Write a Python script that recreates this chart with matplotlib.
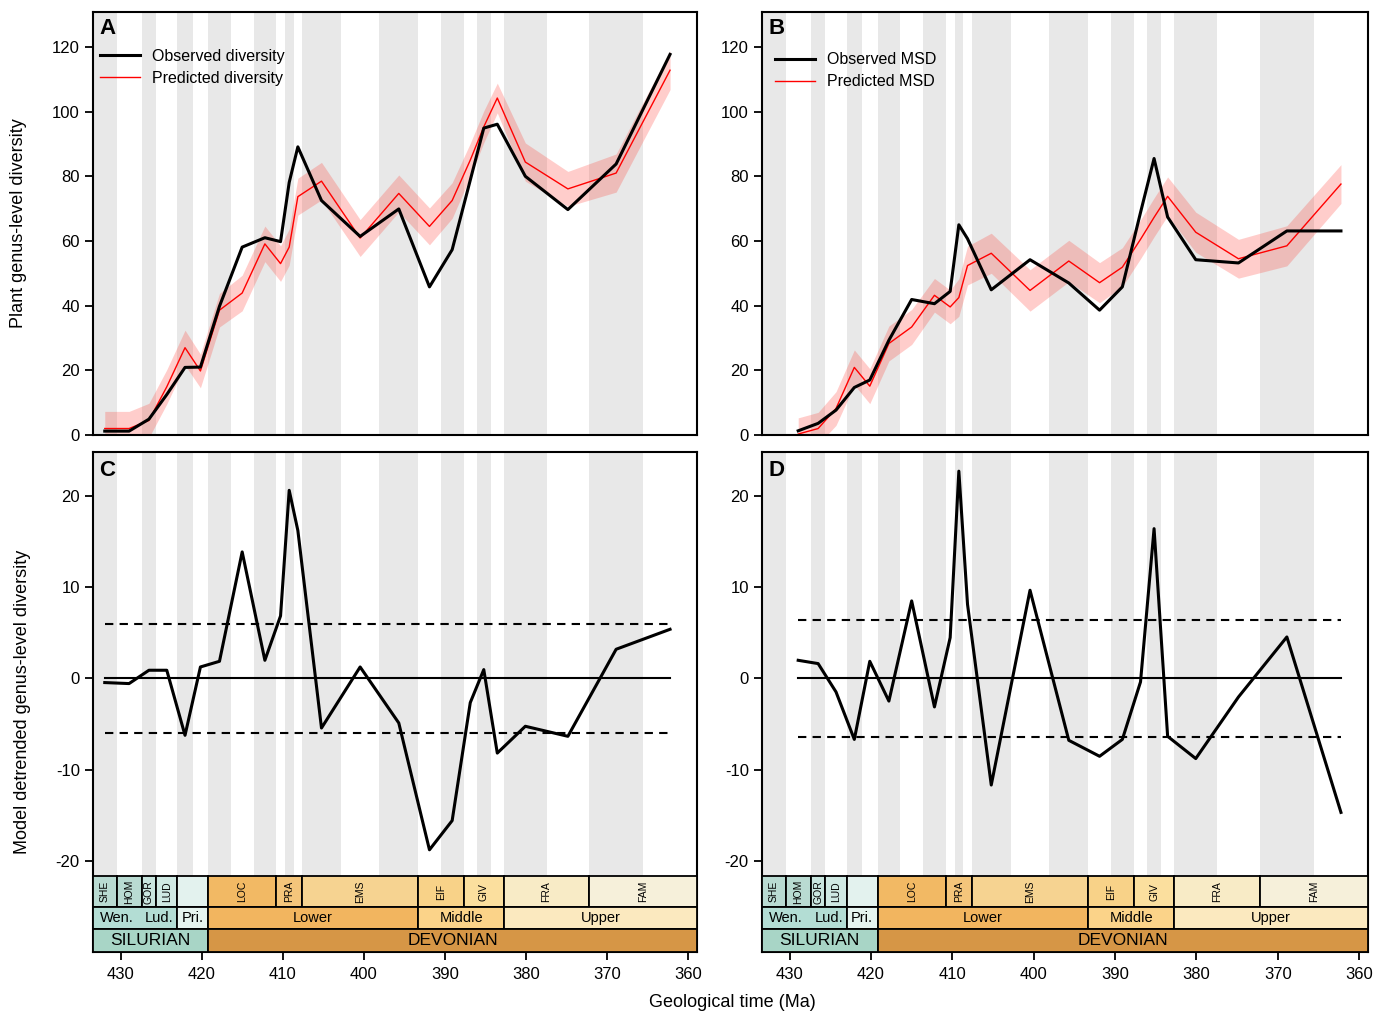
import numpy as np
import matplotlib
matplotlib.use("Agg")
import matplotlib.pyplot as plt
from matplotlib.patches import Rectangle

plt.rcParams['font.family'] = ['Liberation Sans', 'DejaVu Sans']
plt.rcParams['axes.unicode_minus'] = False

# time scale (Ma) -- stages and number of time bins in each stage
stage_names = ['SHE', 'HOM', 'GOR', 'LUD', '', 'LOC', 'PRA', 'EMS', 'EIF', 'GIV', 'FRA', 'FAM']
stage_bounds = [433.4, 430.5, 427.4, 425.6, 423.0, 419.2, 410.8, 407.6, 393.3, 387.7, 382.7, 372.2, 358.9]
stage_nbins = [1, 1, 1, 1, 2, 3, 3, 3, 2, 3, 2, 2]
stage_colors = ['#b9dbd2', '#b9dbd2', '#c9e6df', '#cfe9e3', '#e3f2ee',
                '#f2b964', '#f4c57b', '#f6d391', '#f8d288', '#fbdf9e', '#f8ebc6', '#f6f0da']

series_boxes = [(433.4, 423.0), (423.0, 419.2), (419.2, 393.3), (393.3, 382.7), (382.7, 358.9)]
series_colors = ['#b3ddd4', '#e6f4ef', '#f2b55f', '#fbd389', '#fbe9bf']
series_labels = ['Wen.', 'Lud.', 'Pri.', 'Lower', 'Middle', 'Upper']
series_label_pos = [430.45, 425.2, 421.1, 406.3, 388.0, 370.8]

period_boxes = [(433.4, 419.2), (419.2, 358.9)]
period_labels = ['SILURIAN', 'DEVONIAN']
period_colors = ['#a8d5c6', '#d69646']

# panel A: plant genus-level diversity
obs_div = [1.2, 1.2, 4.9, 12.5, 20.9, 21.0, 39.8, 58.1, 61.0, 59.8, 78.1, 89.1,
           72.5, 61.4, 69.9, 45.8, 57.3, 78.8, 94.9, 96.1, 80.0, 69.7, 83.8, 117.7]
pred_div = [2.0, 2.0, 4.5, 14.9, 27.0, 19.8, 38.6, 43.9, 59.1, 53.0, 58.1, 73.7,
            78.5, 60.9, 74.7, 64.5, 72.5, 85.0, 95.3, 104.2, 84.4, 76.1, 81.0, 112.8]
pred_div_hw = [5.3, 5.3, 5.3, 5.3, 5.4, 5.2, 5.2, 5.5, 5.5, 5.5, 5.6, 5.7,
               5.8, 5.7, 5.7, 5.7, 5.5, 5.2, 4.9, 4.6, 5.9, 5.4, 5.9, 6.0]

# panel B: mean standing diversity
obs_msd = [np.nan, 1.3, 3.6, 7.7, 14.7, 17.0, 29.3, 41.9, 40.6, 44.4, 65.0, 60.7,
           44.9, 54.2, 47.0, 38.6, 45.8, 68.8, 85.5, 67.4, 54.2, 53.2, 63.1, 63.1]
pred_msd = [np.nan, 0.3, 2.0, 8.2, 20.9, 15.1, 28.3, 33.4, 43.2, 39.6, 42.5, 52.4,
            56.2, 44.7, 53.8, 47.1, 51.9, 60.5, 67.3, 73.8, 62.7, 54.5, 58.5, 77.6]
pred_msd_hw = [np.nan, 5.0, 5.0, 5.2, 5.4, 5.4, 5.4, 5.4, 5.2, 5.2, 5.8, 6.0,
               6.2, 6.4, 6.4, 6.2, 6.0, 6.0, 6.0, 6.0, 6.2, 6.0, 6.2, 6.0]

# panels C, D: detrended residuals
resid_div = [-0.47, -0.58, 0.88, 0.88, -6.25, 1.24, 1.86, 13.85, 1.97, 6.84, 20.6, 16.2,
             -5.45, 1.24, -4.9, -18.8, -15.6, -2.67, 0.95, -8.2, -5.26, -6.36, 3.18, 5.37]
resid_msd = [np.nan, 1.97, 1.61, -1.5, -6.7, 1.86, -2.5, 8.48, -3.14, 4.46, 22.7, 8.1,
             -11.7, 9.65, -6.8, -8.55, -6.7, -0.4, 16.4, -6.36, -8.8, -2.05, 4.53, -14.7]
thr_div = 6.0
thr_msd = 6.4

# bin edges: each stage split into equal parts
edges = []
for i, n in enumerate(stage_nbins):
    e = np.linspace(stage_bounds[i], stage_bounds[i + 1], n + 1)
    edges.extend(e[:-1])
edges.append(stage_bounds[-1])
edges = np.array(edges)
mids = (edges[:-1] + edges[1:]) / 2

XLIM = (433.4, 358.9)
GREY = '#e8e8e8'
TS = [-21.7, -25.1, -27.45, -30.0]  # timescale row limits in panels C/D


def shade_bins(ax, ybot=None):
    for i in range(0, len(edges) - 1, 2):
        if ybot is None:
            ax.axvspan(edges[i], edges[i + 1], color=GREY, lw=0, zorder=0)
        else:
            ax.fill_between([edges[i], edges[i + 1]], ybot, 40, color=GREY, lw=0, zorder=0)


def style_axis(ax):
    for s in ax.spines.values():
        s.set_linewidth(1.5)
    ax.tick_params(direction='out', length=6, width=1.3, labelsize=12)
    ax.tick_params(axis='x', pad=5)
    ax.set_xlim(*XLIM)


def timescale(ax):
    kw = dict(ec='black', lw=1.3, zorder=3)
    for i, name in enumerate(stage_names):
        a, b = stage_bounds[i], stage_bounds[i + 1]
        ax.add_patch(Rectangle((b, TS[1]), a - b, TS[0] - TS[1], fc=stage_colors[i], **kw))
        if name:
            ax.text((a + b) / 2, (TS[0] + TS[1]) / 2, name, rotation=90, fontsize=7.5,
                    ha='center', va='center', zorder=4)
    for (a, b), c in zip(series_boxes, series_colors):
        ax.add_patch(Rectangle((b, TS[2]), a - b, TS[1] - TS[2], fc=c, **kw))
    for lab, x in zip(series_labels, series_label_pos):
        ax.text(x, (TS[1] + TS[2]) / 2, lab, fontsize=10.5, ha='center', va='center', zorder=4)
    for (a, b), c, lab in zip(period_boxes, period_colors, period_labels):
        ax.add_patch(Rectangle((b, TS[3]), a - b, TS[2] - TS[3], fc=c, **kw))
        ax.text((a + b) / 2, (TS[2] + TS[3]) / 2, lab, fontsize=12.5, ha='center', va='center', zorder=4)


def top_panel(ax, obs, pred, hw, letter, labels, legend_xy):
    obs, pred, hw = np.array(obs), np.array(pred), np.array(hw)
    shade_bins(ax)
    ok = ~np.isnan(pred)
    ax.fill_between(mids[ok], pred[ok] - hw[ok], pred[ok] + hw[ok], color='#ff3a30',
                    alpha=0.25, lw=0, zorder=1)
    ax.plot(mids[ok], obs[ok], color='black', lw=2.2, zorder=3, label=labels[0])
    ax.plot(mids[ok], pred[ok], color='red', lw=1.0, zorder=2, label=labels[1])
    ax.set_ylim(0, 130.8)
    ax.set_yticks(range(0, 121, 20))
    ax.set_xticks([])
    style_axis(ax)
    ax.text(0.01, 0.985, letter, transform=ax.transAxes, fontsize=16, fontweight='bold',
            ha='left', va='top')
    ax.legend(loc='upper left', bbox_to_anchor=legend_xy, frameon=False, fontsize=11.5,
              handlelength=2.5, handletextpad=0.75, borderpad=0, borderaxespad=0, labelspacing=0.45)


def bottom_panel(ax, resid, thr, letter):
    resid = np.array(resid)
    shade_bins(ax, ybot=TS[0])
    ok = ~np.isnan(resid)
    x0, x1 = mids[ok][0], mids[ok][-1]
    ax.plot([x0, x1], [0, 0], color='black', lw=1.5, zorder=2)
    ax.plot([x0, x1], [thr, thr], color='black', lw=1.5, ls=(0, (4, 3)), zorder=2)
    ax.plot([x0, x1], [-thr, -thr], color='black', lw=1.5, ls=(0, (4, 3)), zorder=2)
    ax.plot(mids[ok], resid[ok], color='black', lw=2.2, zorder=3)
    ax.set_ylim(-30, 24.8)
    ax.set_yticks([-20, -10, 0, 10, 20])
    style_axis(ax)
    ax.set_xticks(range(430, 359, -10))
    timescale(ax)
    ax.text(0.01, 0.985, letter, transform=ax.transAxes, fontsize=16, fontweight='bold',
            ha='left', va='top')


fig = plt.figure(figsize=(13.87, 10.15), dpi=100)
W, H = 1387, 1015
axA = fig.add_axes([93 / W, 1 - 435 / H, 604 / W, 423 / H])
axB = fig.add_axes([762 / W, 1 - 435 / H, 606 / W, 423 / H])
axC = fig.add_axes([93 / W, 1 - 952 / H, 604 / W, 500 / H])
axD = fig.add_axes([762 / W, 1 - 952 / H, 606 / W, 500 / H])

top_panel(axA, obs_div, pred_div, pred_div_hw, 'A', ['Observed diversity', 'Predicted diversity'], (0.011, 0.913))
top_panel(axB, obs_msd, pred_msd, pred_msd_hw, 'B', ['Observed MSD', 'Predicted MSD'], (0.022, 0.905))
bottom_panel(axC, resid_div, thr_div, 'C')
bottom_panel(axD, resid_msd, thr_msd, 'D')

axA.set_ylabel('Plant genus-level diversity', fontsize=13, labelpad=18)
axC.set_ylabel('Model detrended genus-level diversity', fontsize=13, labelpad=18)
fig.text(0.528, 0.012, 'Geological time (Ma)', fontsize=13, ha='center', va='center')

fig.savefig('out.png', dpi=100)
